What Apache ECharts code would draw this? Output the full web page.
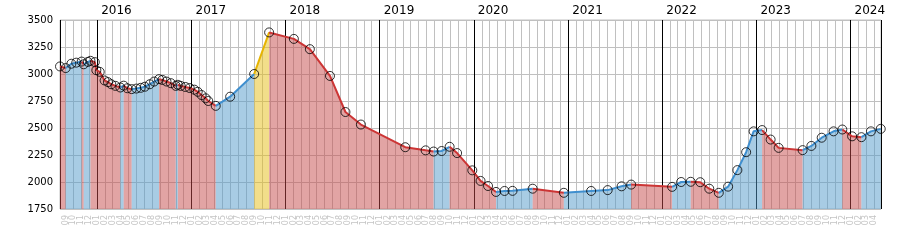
<!DOCTYPE html>
<html><head><meta charset="utf-8">
<script src="https://cdn.jsdelivr.net/npm/echarts@6/dist/echarts.min.js"></script>
<style>html,body{margin:0;padding:0;background:#fff}#c{width:900px;height:250px}</style>
</head><body><div id="c"></div>
<script>
const dates = ['2015-08-10','2015-09-01','2015-09-23','2015-10-12','2015-11-02','2015-11-10','2015-11-26','2015-12-06','2015-12-23','2015-12-29',
'2016-01-11','2016-01-30','2016-02-12','2016-02-25','2016-03-12','2016-03-31','2016-04-13','2016-04-27','2016-05-14','2016-06-01',
'2016-06-18','2016-07-04','2016-07-23','2016-08-09','2016-08-28','2016-09-10','2016-09-26','2016-10-13','2016-11-01','2016-11-09',
'2016-11-20','2016-12-08','2016-12-25','2017-01-12','2017-01-25','2017-02-09','2017-02-25','2017-03-07','2017-04-05','2017-05-31',
'2017-09-01','2017-10-29','2018-02-02','2018-04-05','2018-06-22','2018-08-21','2018-10-20','2019-04-10','2019-06-28','2019-07-29',
'2019-08-29','2019-09-29','2019-10-28','2019-12-26','2020-01-27','2020-02-25','2020-03-27','2020-04-29','2020-05-30','2020-08-16',
'2020-12-15','2021-03-31','2021-06-03','2021-07-27','2021-09-02','2022-02-08','2022-03-15','2022-04-21','2022-05-28','2022-07-02',
'2022-08-08','2022-09-13','2022-10-19','2022-11-22','2022-12-21','2023-01-23','2023-02-25','2023-03-28','2023-06-29','2023-08-02',
'2023-09-11','2023-10-27','2023-11-30','2024-01-07','2024-02-12','2024-03-20','2024-04-27'];
const values = [3070,3055,3095,3105,3115,3090,3112,3122,3110,3035,
3020,2940,2925,2905,2890,2875,2892,2868,2860,2865,
2872,2882,2905,2930,2952,2945,2930,2915,2890,2900,
2890,2880,2870,2855,2835,2805,2775,2750,2705,2790,
3000,3385,3325,3230,2982,2648,2532,2322,2293,2282,
2287,2326,2268,2108,2010,1963,1908,1917,1918,1938,
1900,1917,1925,1960,1976,1955,2000,2002,1998,1938,
1900,1957,2110,2276,2469,2481,2393,2316,2295,2334,
2410,2469,2486,2423,2415,2469,2492];
const yMin = 1750, yMax = 3500, yStep = 250;
const axisStart = '2015-08-10', axisEnd = '2024-04-28';

const DAY = 86400000;
const STY = {
  down: {line:'#cc3535', area:'rgba(197,73,73,0.5)'},
  up:   {line:'#3f8fcf', area:'rgba(81,153,201,0.5)'},
  jump: {line:'#e6b400', area:'rgba(229,189,21,0.5)'}
};
const pts = dates.map((d,i)=>[d, values[i]]);
function kind(i){ const a=values[i], b=values[i+1]; if (b > a*1.1) return 'jump'; return b>=a ? 'up' : 'down'; }
const series = [];
let start = 0;
for (let i=0;i<values.length-1;i++){
  const k = kind(i);
  const nk = i+1 < values.length-1 ? kind(i+1) : null;
  if (nk !== k){
    series.push({type:'line', data: pts.slice(start, i+2), symbol:'none', showSymbol:false, silent:true,
      lineStyle:{color:STY[k].line, width:2}, itemStyle:{color:STY[k].line},
      areaStyle:{color:STY[k].area, opacity:1}, z:2, animation:false});
    start = i+1;
  }
}
series.push({type:'scatter', data: pts, symbol:'circle', symbolSize:9, silent:true, z:5,
  itemStyle:{color:'rgba(255,255,255,0)', borderColor:'#000', borderWidth:1}});

const chart = echarts.init(document.getElementById('c'), null, {renderer:'canvas'});
chart.setOption({
  animation:false,
  grid:{left:60, right:19, top:20, bottom:41, show:true, borderColor:'#c0c0c0', borderWidth:1, backgroundColor:'transparent', containLabel:false},
  xAxis:[
    {type:'time', position:'bottom', min:axisStart, max:axisEnd, minInterval:28*DAY, maxInterval:31*DAY,
     axisLine:{show:false}, axisTick:{show:false, interval:0},
     splitLine:{show:true, interval:0, lineStyle:{color:'#c0c0c0', width:1}},
     axisLabel:{show:true, interval:0, hideOverlap:false, rotate:90, fontSize:8, color:'#c4c4c4', fontFamily:'DejaVu Sans', margin:6,
       formatter:function(v){ const d=new Date(v); if(d.getDate()!==1) return ''; return String(d.getMonth()+1).padStart(2,'0'); }}},
    {type:'time', position:'top', min:axisStart, max:axisEnd, minInterval:365*DAY, maxInterval:366*DAY,
     axisLine:{show:false}, axisTick:{show:false},
     splitLine:{show:true, lineStyle:{color:'#000', width:1}},
     axisLabel:{show:true, hideOverlap:false, align:'left', padding:[0,0,0,4], fontSize:12, color:'#000', fontFamily:'DejaVu Sans', margin:3,
       formatter:function(v){ const d=new Date(v); return (d.getMonth()===0 && d.getDate()===1) ? String(d.getFullYear()) : ''; }}}
  ],
  yAxis:{type:'value', min:yMin, max:yMax, interval:yStep,
    axisLine:{show:false}, axisTick:{show:false},
    splitLine:{show:true, lineStyle:{color:'#c0c0c0', width:1}},
    axisLabel:{fontSize:10, color:'#000', fontFamily:'DejaVu Sans', margin:7, formatter:function(v){ return String(v); }}},
  series: series
});
</script></body></html>
